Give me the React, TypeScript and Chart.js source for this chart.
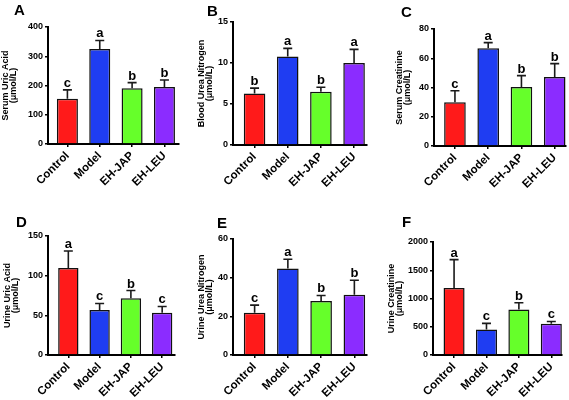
import React, { useEffect, useRef } from "react";
import { Chart, registerables } from "chart.js";

Chart.register(...registerables);
Chart.defaults.font.family = "'Liberation Sans', Arial, sans-serif";

const categories = ["Control", "Model", "EH-JAP", "EH-LEU"];
const barColors = ["#ff1a1a", "#1f3df2", "#66ff2a", "#8b2cff"];

// A
const serumUricAcid = [155, 325, 191, 195];
const serumUricAcidSem = [30, 29, 19, 24];
const serumUricAcidSig = ["c", "a", "b", "b"];
const serumUricAcidTicks = [0, 100, 200, 300, 400];
// B
const bloodUreaNitrogen = [6.28, 10.8, 6.48, 9.99];
const bloodUreaNitrogenSem = [0.65, 0.98, 0.57, 1.67];
const bloodUreaNitrogenSig = ["b", "a", "b", "a"];
const bloodUreaNitrogenTicks = [0, 5, 10, 15];
// C
const serumCreatinine = [29.9, 66.8, 40.3, 47.2];
const serumCreatinineSem = [7.9, 3.9, 7.8, 9.1];
const serumCreatinineSig = ["c", "a", "b", "b"];
const serumCreatinineTicks = [0, 20, 40, 60, 80];
// D
const urineUricAcid = [109.8, 56.6, 71.6, 53.2];
const urineUricAcidSem = [21.2, 8.4, 9.7, 8];
const urineUricAcidSig = ["a", "c", "b", "c"];
const urineUricAcidTicks = [0, 50, 100, 150];
// E
const urineUreaNitrogen = [21.8, 44.7, 27.9, 31.1];
const urineUreaNitrogenSem = [4, 4.8, 2.9, 7.6];
const urineUreaNitrogenSig = ["c", "a", "b", "b"];
const urineUreaNitrogenTicks = [0, 20, 40, 60];
// F
const urineCreatinine = [1188, 453, 806, 553];
const urineCreatinineSem = [500, 106, 118, 41];
const urineCreatinineSig = ["a", "c", "b", "c"];
const urineCreatinineTicks = [0, 500, 1000, 1500, 2000];

const panels = [
  {
    letter: "A", title: ["Serum Uric Acid", "(μmol/L)"],
    values: serumUricAcid, sem: serumUricAcidSem, sig: serumUricAcidSig, ticks: serumUricAcidTicks,
    box: { left: 0, top: 0, width: 190, height: 200 },
    area: { left: 48, top: 27, right: 179, bottom: 144 },
    titlePad: 1.5, letterPos: [14, 15], xMin: -0.6, xMax: 3.45,
  },
  {
    letter: "B", title: ["Blood Urea Nitrogen", "(μmol/L)"],
    values: bloodUreaNitrogen, sem: bloodUreaNitrogenSem, sig: bloodUreaNitrogenSig, ticks: bloodUreaNitrogenTicks,
    box: { left: 190, top: 0, width: 190, height: 200 },
    area: { left: 43, top: 22, right: 177, bottom: 145 },
    titlePad: 7.5, letterPos: [17, 16], xMin: -0.65, xMax: 3.39,
  },
  {
    letter: "C", title: ["Serum Creatinine", "(μmol/L)"],
    values: serumCreatinine, sem: serumCreatinineSem, sig: serumCreatinineSig, ticks: serumCreatinineTicks,
    box: { left: 380, top: 0, width: 189, height: 200 },
    area: { left: 54, top: 29, right: 186, bottom: 146 },
    titlePad: 15.5, letterPos: [21, 17], xMin: -0.63, xMax: 3.34,
  },
  {
    letter: "D", title: ["Urine Uric Acid", "(μmol/L)"],
    values: urineUricAcid, sem: urineUricAcidSem, sig: urineUricAcidSig, ticks: urineUricAcidTicks,
    box: { left: 0, top: 200, width: 190, height: 200 },
    area: { left: 48, top: 36, right: 175, bottom: 155 },
    titlePad: 3, letterPos: [16, 27], xMin: -0.65, xMax: 3.41,
  },
  {
    letter: "E", title: ["Urine Urea Nitrogen", "(μmol/L)"],
    values: urineUreaNitrogen, sem: urineUreaNitrogenSem, sig: urineUreaNitrogenSig, ticks: urineUreaNitrogenTicks,
    box: { left: 190, top: 200, width: 190, height: 200 },
    area: { left: 43, top: 39, right: 177, bottom: 155 },
    titlePad: 7, letterPos: [27, 28], xMin: -0.65, xMax: 3.38,
  },
  {
    letter: "F", title: ["Urine Creatinine", "(μmol/L)"],
    values: urineCreatinine, sem: urineCreatinineSem, sig: urineCreatinineSig, ticks: urineCreatinineTicks,
    box: { left: 380, top: 200, width: 189, height: 200 },
    area: { left: 53, top: 42, right: 182, bottom: 155 },
    titlePad: 7, letterPos: [22, 27], xMin: -0.65, xMax: 3.33,
  },
];

function Panel({ p }: { p: any }) {
  const ref = useRef<HTMLCanvasElement>(null);
  useEffect(() => {
    const canvas = ref.current;
    if (!canvas) return;
    const extras = {
      id: "extras",
      afterDatasetsDraw(chart: any) {
        const ctx = chart.ctx;
        const xs = chart.scales.x;
        const ys = chart.scales.y;
        ctx.save();
        p.values.forEach((v: number, i: number) => {
          const x = xs.getPixelForValue(i);
          const y0 = ys.getPixelForValue(v);
          const y1 = ys.getPixelForValue(v + p.sem[i]);
          ctx.strokeStyle = "#1a1a1a";
          ctx.lineWidth = 1.6;
          ctx.beginPath();
          ctx.moveTo(x, y0);
          ctx.lineTo(x, y1);
          ctx.moveTo(x - 4.5, y1);
          ctx.lineTo(x + 4.5, y1);
          ctx.stroke();
          ctx.fillStyle = "#000";
          ctx.font = "bold 13px 'Liberation Sans', Arial, sans-serif";
          ctx.textAlign = "center";
          ctx.textBaseline = "alphabetic";
          ctx.fillText(p.sig[i], x, y1 - 3);
        });
        ctx.font = "bold 15px 'Liberation Sans', Arial, sans-serif";
        ctx.textAlign = "left";
        ctx.textBaseline = "alphabetic";
        ctx.fillStyle = "#000";
        ctx.fillText(p.letter, p.letterPos[0], p.letterPos[1]);
        ctx.restore();
      },
    };
    const chart = new Chart(canvas, {
      type: "bar",
      data: {
        datasets: [
          {
            data: p.values.map((v: number, i: number) => ({ x: i, y: v })),
            backgroundColor: barColors,
            borderColor: "#111",
            borderWidth: 1.5,
            barPercentage: 0.65,
            categoryPercentage: 1,
          } as any,
        ],
      },
      options: {
        responsive: false,
        animation: false,
        devicePixelRatio: 1,
        layout: {
          padding: { left: 0, top: p.area.top, right: p.box.width - p.area.right, bottom: 0 },
        },
        plugins: { legend: { display: false }, tooltip: { enabled: false } },
        scales: {
          x: {
            type: "linear",
            min: p.xMin,
            max: p.xMax,
            offset: false,
            grid: {
              display: true, drawOnChartArea: false, drawTicks: true, tickLength: 3,
              color: "#000", lineWidth: 1.5, offset: false,
            },
            border: { display: true, color: "#000", width: 2 },
            ticks: {
              autoSkip: false, minRotation: 45, maxRotation: 45, padding: 2, color: "#000",
              font: { size: 11.5, weight: "bold" },
              callback: (v: any) => categories[v] ?? "",
            },
            afterBuildTicks: (s: any) => {
              s.ticks = categories.map((_, i) => ({ value: i }));
            },
            afterFit: (s: any) => {
              s.height = p.box.height - p.area.bottom;
            },
          } as any,
          y: {
            min: 0,
            max: p.ticks[p.ticks.length - 1],
            grid: { drawOnChartArea: false, tickLength: 3, color: "#000", lineWidth: 1.5 },
            border: { color: "#000", width: 2 },
            ticks: {
              padding: 2, color: "#000", font: { size: 9, weight: "bold" },
              callback: (v: any) => String(v),
            },
            title: {
              display: true, text: p.title, color: "#000",
              font: { size: 9, weight: "bold", lineHeight: 0.9 },
              padding: { top: p.titlePad, bottom: 0 },
            },
            afterBuildTicks: (s: any) => {
              s.ticks = p.ticks.map((v: number) => ({ value: v }));
            },
            afterFit: (s: any) => {
              s.width = p.area.left;
            },
          } as any,
        },
      },
      plugins: [extras],
    });
    return () => chart.destroy();
  }, []);
  return (
    <div
      style={{
        position: "absolute",
        left: p.box.left,
        top: p.box.top,
        width: p.box.width,
        height: p.box.height,
      }}
    >
      <canvas ref={ref} width={p.box.width} height={p.box.height} style={{ display: "block" }} />
    </div>
  );
}

export default function App() {
  return (
    <div
      style={{
        position: "fixed",
        left: 0,
        top: 0,
        width: 569,
        height: 400,
        background: "#fff",
        overflow: "hidden",
      }}
    >
      {panels.map((p) => (
        <Panel key={p.letter} p={p} />
      ))}
    </div>
  );
}
